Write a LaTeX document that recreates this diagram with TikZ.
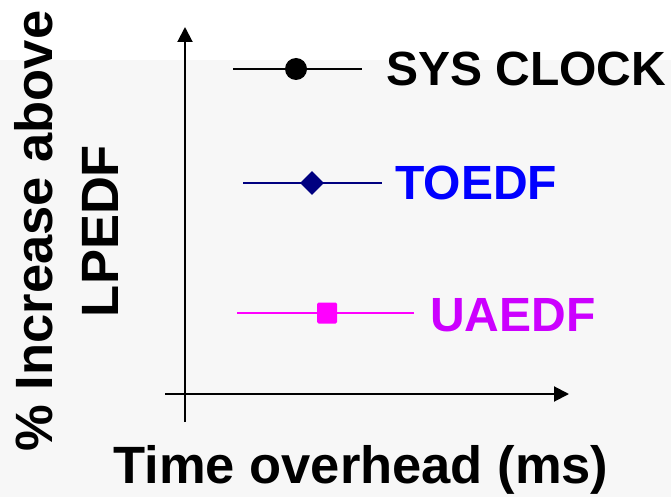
\documentclass[tikz,border=0pt]{standalone}
\usepackage{fontspec}
\setmainfont{Liberation Sans}
\usetikzlibrary{arrows.meta,shapes.geometric}
\definecolor{bggray}{HTML}{F7F7F7}
\definecolor{navyc}{HTML}{000080}
\definecolor{bluec}{HTML}{0000FF}
\definecolor{magc}{HTML}{FF00FF}
\definecolor{violc}{HTML}{CC00FF}
\tikzset{
  axisline/.style={line width=2pt,-{Triangle[width=15pt,length=15pt]}},
  serline/.style={line width=2.8pt},
  legendtext/.style={inner sep=0pt,anchor=base west,font=\fontsize{48pt}{48pt}\selectfont\bfseries},
  axislabel/.style={inner sep=0pt,anchor=base,font=\fontsize{52.5pt}{52.5pt}\selectfont\bfseries},
}
\begin{document}
\begin{tikzpicture}[x=1pt,y=-1pt]
\useasboundingbox (0,0) rectangle (671,497);
\fill[white] (0,0) rectangle (671,60);
\fill[bggray] (0,60) rectangle (671,497);
% axes
\coordinate (ybot) at (185,422);
\coordinate (ytop) at (185,27);
\coordinate (xleft) at (165,394);
\coordinate (xright) at (569,394);
\draw[axisline] (ybot) -- (ytop);
\draw[axisline] (xleft) -- (xright);
% SYS CLOCK
\coordinate (s1) at (233,69);
\coordinate (s2) at (362,69);
\draw[serline,black] (s1) -- (s2);
\node[circle,fill=black,inner sep=0pt,minimum size=22pt] (sm) at (296,69) {};
\node[legendtext,text=black] (st) at (386,86) {SYS CLOCK};
% TOEDF
\coordinate (t1) at (243,183);
\coordinate (t2) at (382,183);
\draw[serline,navyc] (t1) -- (t2);
\node[diamond,fill=navyc,inner sep=0pt,minimum size=24pt] (tm) at (312,183) {};
\node[legendtext,text=bluec] (tt) at (395,199) {TOEDF};
% UAEDF
\coordinate (u1) at (237,313);
\coordinate (u2) at (414,313);
\draw[serline,magc] (u1) -- (u2);
\node[rectangle,rounded corners=1.5pt,fill=magc,inner sep=0pt,minimum width=20pt,minimum height=21pt] (um) at (327,313) {};
\node[legendtext,text=violc] (ut) at (430,331) {UAEDF};
% axis labels
\node[axislabel,rotate=90] (yl1) at (52,231) {\% Increase above};
\node[axislabel,rotate=90] (yl2) at (118,231) {LPEDF};
\node[axislabel] (xl) at (361,483) {Time overhead (ms)};
\end{tikzpicture}
\end{document}
